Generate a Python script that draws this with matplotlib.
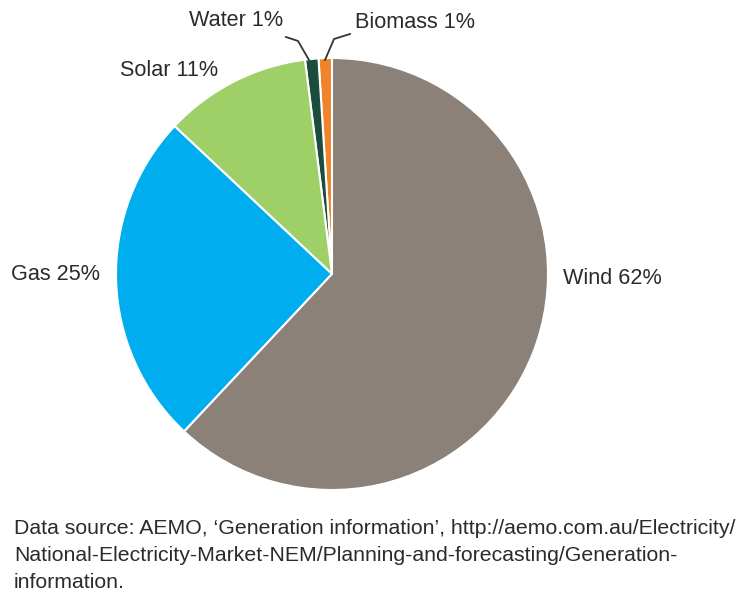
import matplotlib
matplotlib.use("Agg")
import matplotlib.pyplot as plt

# generation mix, drawn counter-clockwise from 12 o'clock
sources = ["Biomass", "Water", "Solar", "Gas", "Wind"]
shares = [1, 1, 11, 25, 62]
colors = ["#f0842a", "#1b4d3e", "#9fcf67", "#00aeef", "#8b8178"]

source_note = (
    "Data source: AEMO, \u2018Generation information\u2019, http://aemo.com.au/Electricity/\n"
    "National-Electricity-Market-NEM/Planning-and-forecasting/Generation-\n"
    "information."
)

plt.rcParams["font.family"] = ["Liberation Sans", "DejaVu Sans"]

W, H = 748, 595
fig = plt.figure(figsize=(W / 100, H / 100), dpi=100)
ax = fig.add_axes([0, 0, 1, 1])

# pie in pixel space; y axis is flipped, so counterclock=False here
# gives an on-screen counter-clockwise order
cx, cy, r = 332, 274, 216
ax.pie(
    shares,
    colors=colors,
    startangle=-90,
    counterclock=False,
    center=(cx, cy),
    radius=r,
    frame=True,
    wedgeprops=dict(edgecolor="white", linewidth=1.5),
)
ax.set_xlim(0, W)
ax.set_ylim(H, 0)
ax.axis("off")

labels = [f"{s} {v}%" for s, v in zip(sources, shares)]
lbl = dict(fontsize=15.6, color="#2b2b2b", va="center")
ax.text(355, 22, labels[0], ha="left", **lbl)
ax.text(283, 21, labels[1], ha="right", **lbl)
ax.text(218, 70, labels[2], ha="right", **lbl)
ax.text(100, 275, labels[3], ha="right", **lbl)
ax.text(563, 279, labels[4], ha="left", **lbl)

# leader lines for the two thin slices
ax.plot([286, 298, 309], [37, 41, 60], color="#333333", lw=1.3)
ax.plot([325, 334, 350], [60, 39, 34], color="#333333", lw=1.3)

ax.text(14, 519, source_note, ha="left", va="top", fontsize=15.3,
        color="#2b2b2b", linespacing=1.52)

fig.savefig("out.png", dpi=100)
